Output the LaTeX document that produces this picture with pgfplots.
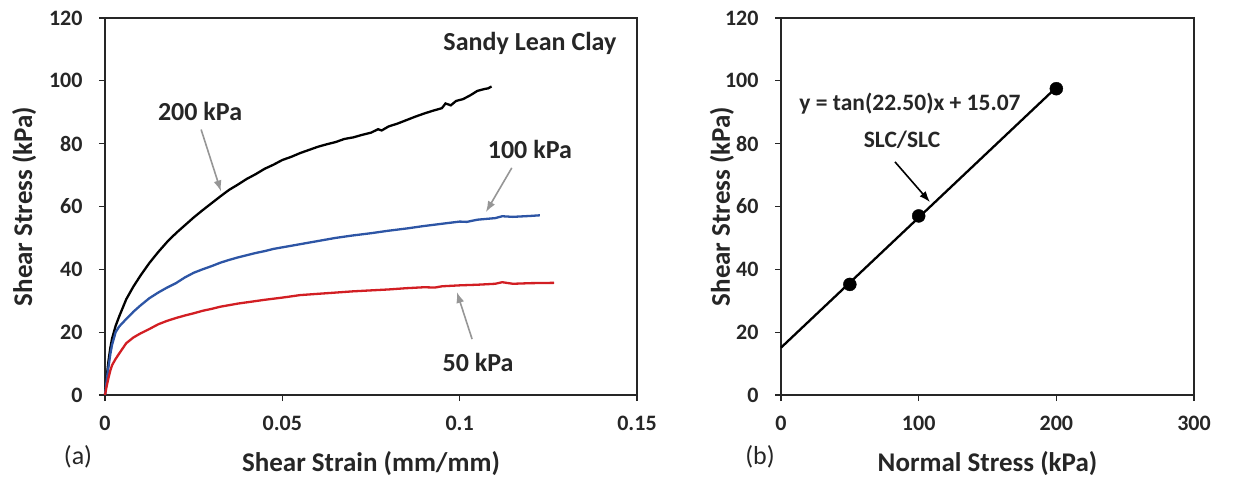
\documentclass[border=0pt]{standalone}
\usepackage{pgfplots}
\pgfplotsset{compat=1.18}
\usepackage{fontspec}
\setmainfont{Carlito}
\usetikzlibrary{arrows.meta}
\definecolor{myblue}{RGB}{45,85,165}
\definecolor{myred}{RGB}{210,30,35}
\definecolor{arrgray}{RGB}{150,150,150}
\begin{document}
\begin{tikzpicture}[x=1pt,y=1pt]
\path[use as bounding box] (0pt,0pt) rectangle (1237pt,480pt);
\pgfplotsset{common/.style={
  scale only axis, height=377pt, ymin=0, ymax=120, ytick={0,20,...,120},
  tick align=outside, xtick pos=bottom, ytick pos=left,
  major tick length=6pt,
  axis line style={line width=1.4pt, black!85},
  tick style={line width=1.2pt, black!85},
  tick label style={font=\fontsize{22}{26}\selectfont\bfseries, text=black!85},
  xticklabel shift=12pt,
  label style={font=\fontsize{27}{31}\selectfont\bfseries, text=black!85},
  /pgf/number format/assume math mode=true,
  clip=false, anchor=south west}}
% ---------------- (a)
\begin{axis}[common, at={(105pt,85pt)}, width=532pt,
  yticklabel style={anchor=east, xshift=-13pt},
  xmin=0, xmax=0.15, xtick={0,0.05,0.1,0.15}, xticklabels={0,0.05,0.1,0.15},
  xlabel={Shear Strain (mm/mm)}, ylabel={Shear Stress (kPa)},
  xlabel style={at={(axis description cs:0.5,-0.182)}, anchor=center},
  ylabel style={at={(axis description cs:-0.152,0.5)}, anchor=center, rotate=0}]
\addplot[black, line width=2.3pt] coordinates {
(0,0) (0.0005,6) (0.001,11) (0.0015,15) (0.002,18) (0.003,22) (0.004,25)
(0.006,30.5) (0.008,34.5) (0.010,38) (0.0125,42) (0.015,45.5) (0.0175,48.7)
(0.020,51.5) (0.0225,54) (0.025,56.5) (0.0275,58.8) (0.030,61) (0.0325,63.2)
(0.035,65.3) (0.0375,67) (0.040,68.8) (0.0425,70.3) (0.045,72) (0.0475,73.3) (0.050,74.8)
(0.0525,75.8) (0.055,77) (0.0575,78) (0.060,79) (0.0625,79.8) (0.065,80.5) (0.0675,81.5)
(0.070,82) (0.0725,82.8) (0.075,83.5) (0.077,84.6) (0.078,84.2) (0.080,85.5)
(0.0825,86.4) (0.085,87.5) (0.0875,88.6) (0.090,89.6) (0.0925,90.5) (0.095,91.3)
(0.096,92.8) (0.0975,92.2) (0.099,93.6) (0.101,94.2) (0.103,95.4) (0.105,96.8)
(0.107,97.4) (0.108,97.6) (0.109,98.2)};
\addplot[myblue, line width=2.3pt] coordinates {
(0,0) (0.0005,5) (0.001,9) (0.0015,13) (0.002,16) (0.003,20) (0.004,21.8)
(0.006,24.2) (0.008,26.5) (0.010,28.5) (0.0125,30.8) (0.015,32.6) (0.0175,34.2)
(0.020,35.6) (0.0225,37.4) (0.025,38.9) (0.0275,40) (0.030,41) (0.0325,42.1) (0.035,43)
(0.0375,43.8) (0.040,44.5) (0.0425,45.2) (0.045,45.8) (0.0475,46.5) (0.050,47)
(0.055,48) (0.060,49) (0.065,50) (0.070,50.8) (0.075,51.5) (0.080,52.3)
(0.085,53) (0.090,53.8) (0.095,54.5) (0.100,55.2) (0.102,55.1) (0.105,55.8)
(0.110,56.3) (0.112,56.9) (0.115,56.7) (0.120,57) (0.1226,57.2)};
\addplot[myred, line width=2.3pt] coordinates {
(0,0) (0.0005,3) (0.001,5.5) (0.0015,7.8) (0.002,9.5) (0.003,11.5) (0.004,13.2)
(0.006,16.5) (0.008,18.3) (0.010,19.6) (0.0125,21) (0.015,22.5) (0.0175,23.6)
(0.020,24.5) (0.0225,25.3) (0.025,26) (0.0275,26.8) (0.030,27.4) (0.0325,28.1) (0.035,28.6)
(0.0375,29.1) (0.040,29.5) (0.045,30.3) (0.050,31) (0.055,31.8) (0.060,32.2)
(0.065,32.6) (0.070,33) (0.075,33.3) (0.080,33.6) (0.085,34) (0.090,34.3)
(0.093,34.2) (0.095,34.6) (0.100,34.9) (0.105,35.1) (0.110,35.4) (0.112,35.9)
(0.115,35.4) (0.120,35.6) (0.1266,35.7)};
\node[font=\fontsize{26}{30}\selectfont\bfseries, text=black!85] at (axis cs:0.0268,90.1) {200 kPa};
\draw[arrgray, line width=1.6pt, -{Latex[length=11pt,width=8pt]}] (axis cs:0.0271,84.5) -- (axis cs:0.0327,64.8);
\node[font=\fontsize{26}{30}\selectfont\bfseries, text=black!85] at (axis cs:0.1198,78) {100 kPa};
\draw[arrgray, line width=1.6pt, -{Latex[length=11pt,width=8pt]}] (axis cs:0.1147,72.3) -- (axis cs:0.1074,58.2);
\node[font=\fontsize{26}{30}\selectfont\bfseries, text=black!85] at (axis cs:0.1052,10.5) {50 kPa};
\draw[arrgray, line width=1.6pt, -{Latex[length=11pt,width=8pt]}] (axis cs:0.1035,17.8) -- (axis cs:0.0992,32.8);
\node[font=\fontsize{26}{30}\selectfont\bfseries, text=black!85] at (axis cs:0.1198,112) {Sandy Lean Clay};
\end{axis}
% ---------------- (b)
\begin{axis}[common, at={(781pt,85pt)}, width=413pt,
  yticklabel style={anchor=east, xshift=-13pt},
  xmin=0, xmax=300, xtick={0,100,200,300},
  xlabel={Normal Stress (kPa)}, ylabel={Shear Stress (kPa)},
  xlabel style={at={(axis description cs:0.5,-0.182)}, anchor=center},
  ylabel style={at={(axis description cs:-0.143,0.5)}, anchor=center, rotate=0}]
\addplot[black, line width=2.3pt] coordinates {(0,15.07) (200,97.9)};
\addplot[only marks, mark=*, mark size=6.5pt, black] coordinates {(50,35.2) (100,57) (200,97.5)};
\node[font=\fontsize{23.5}{27}\selectfont\bfseries, text=black!85] at (axis cs:93.7,92.9) {y = tan(22.50)x + 15.07};
\node[font=\fontsize{23.5}{27}\selectfont\bfseries, text=black!85] at (axis cs:87.9,81.2) {SLC/SLC};
\draw[black, line width=1.6pt, -{Latex[length=11pt,width=8pt]}] (axis cs:82.8,74.2) -- (axis cs:108.2,61.4);
\end{axis}
\node[font=\fontsize{26}{30}\selectfont, text=black!85] at (78pt,23pt) {(a)};
\node[font=\fontsize{26}{30}\selectfont, text=black!85] at (760pt,23pt) {(b)};
\end{tikzpicture}
\end{document}
